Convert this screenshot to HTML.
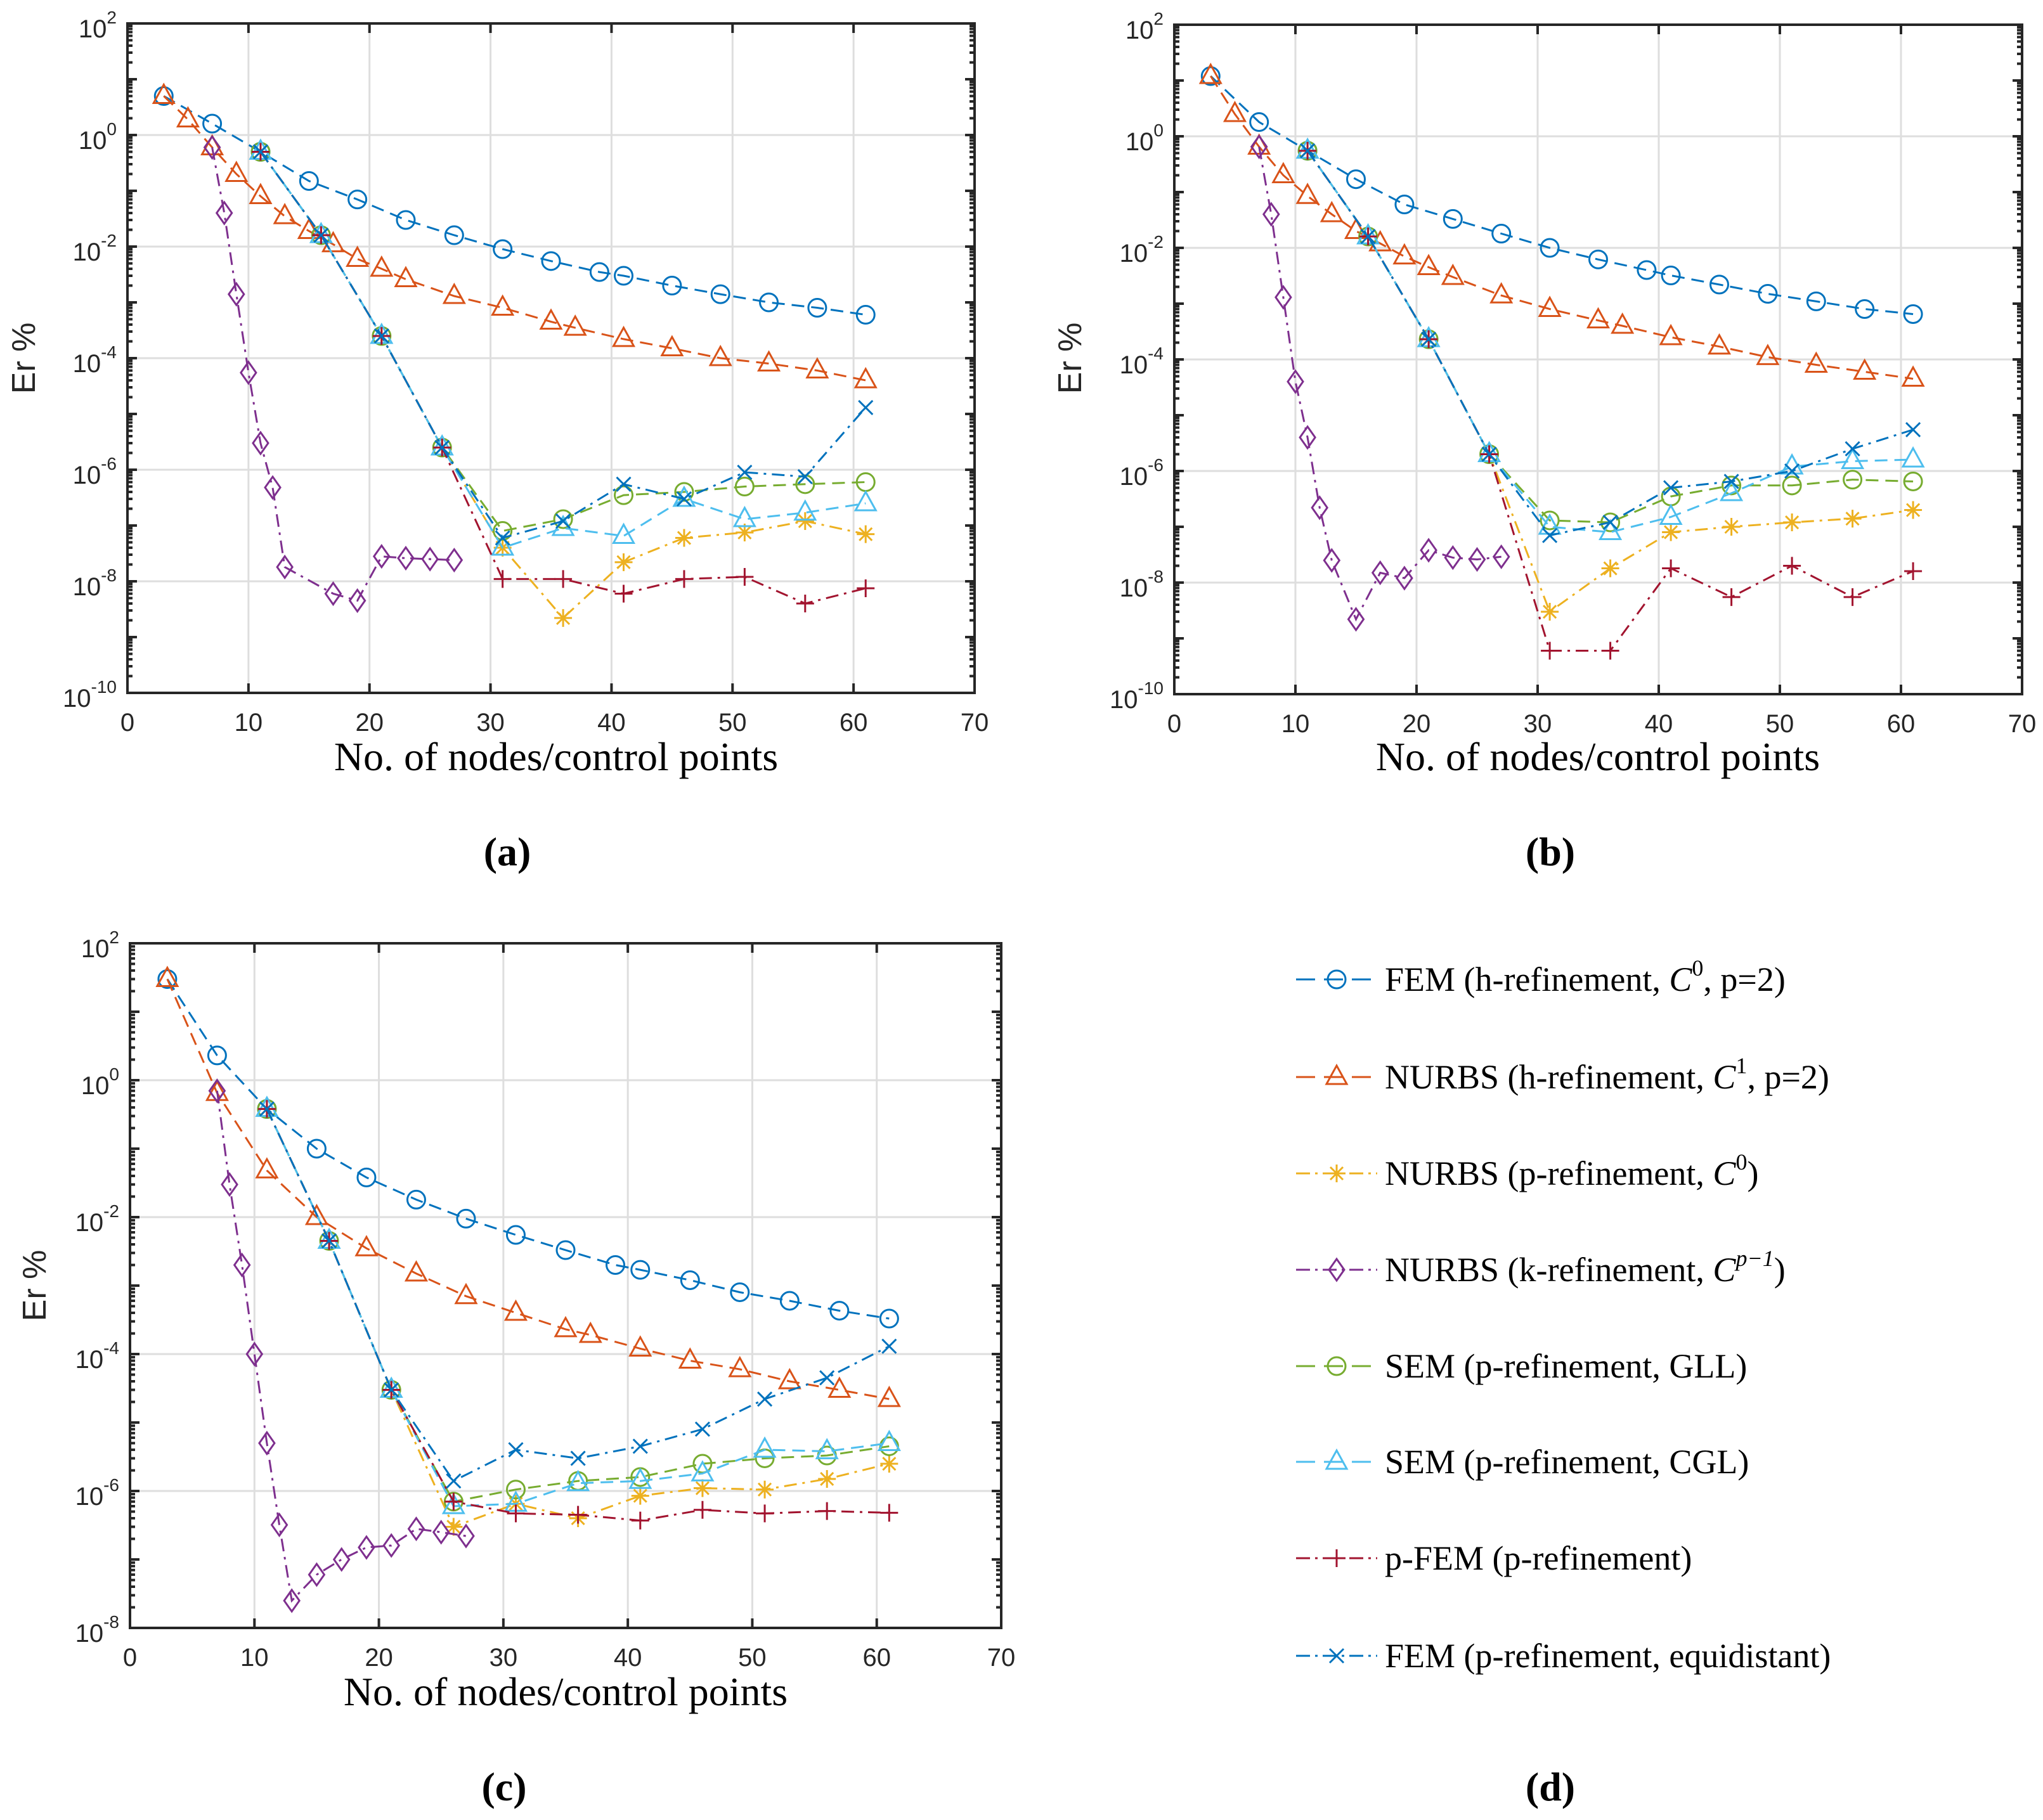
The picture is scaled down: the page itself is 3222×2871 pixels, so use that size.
<!DOCTYPE html>
<html><head><meta charset="utf-8"><style>
html,body{margin:0;padding:0;background:#fff;}
svg{display:block;}
text{font-family:"Liberation Sans",sans-serif;fill:#262626;}
.serif{font-family:"Liberation Serif",serif;fill:#000;}
</style></head><body>
<svg id="fig" width="3222" height="2871" viewBox="0 0 3222 2871" xmlns="http://www.w3.org/2000/svg"></svg>
<script>
// ---- data (panel a) ----
const xFemH = [3,7,11,15,19,23,27,31,35,39,41,45,49,53,57,61];
const xNurbsH = [3,5,7,9,11,13,15,17,19,21,23,27,31,35,37,41,45,49,53,57,61];
const xNurbsHc = [3,7,11,15,19,23,27,31,35,37,41,45,49,53,57,61];
const xP = [11,16,21,26,31,36,41,46,51,56,61];
const xK = [7,8,9,10,11,12,13,17,19,21,23,25,27];
const xK2 = [7,8,9,10,11,12,13,15,17,19,21,23,25,27];

const aFemH = [5,1.6,0.5,0.15,0.07,0.03,0.016,0.009,0.0055,0.0035,0.003,0.002,0.0014,0.001,0.0008,0.0006];
const aNurbsH = [5,1.9,0.6,0.2,0.08,0.035,0.019,0.011,0.006,0.004,0.0026,0.0013,0.0008,0.00045,0.00035,0.00022,0.00015,0.0001,0.00008,0.00006,0.00004];
const aNurbsP = [0.5,0.016,2.5e-4,2.5e-6,4e-8,2.2e-9,2.2e-8,6e-8,7.5e-8,1.2e-7,7e-8];
const aNurbsK = [0.6,0.04,0.0014,5.5e-5,3e-6,4.8e-7,1.8e-8,6e-9,4.5e-9,2.8e-8,2.6e-8,2.5e-8,2.4e-8];
const aSemGll = [0.5,0.016,2.5e-4,2.5e-6,8e-8,1.3e-7,3.5e-7,4e-7,5e-7,5.5e-7,6e-7];
const aSemCgl = [0.5,0.016,2.5e-4,2.5e-6,4e-8,9e-8,6.5e-8,3e-7,1.3e-7,1.7e-7,2.5e-7];
const aPFem = [0.5,0.016,2.5e-4,2.5e-6,1.1e-8,1.1e-8,6e-9,1.1e-8,1.2e-8,4e-9,7.5e-9];
const aFemP = [0.5,0.016,2.5e-4,2.5e-6,6e-8,1.2e-7,5.5e-7,3e-7,9e-7,7.5e-7,1.3e-5];

// ---- data (panel b) ----
const bFemH = [12,1.8,0.55,0.17,0.06,0.033,0.018,0.01,0.0062,0.004,0.0032,0.0022,0.0015,0.0011,0.0008,0.00065];
const bNurbsH = [12,2.5,0.65,0.2,0.085,0.04,0.02,0.012,0.007,0.0045,0.003,0.0014,0.0008,0.0005,0.0004,0.00025,0.00017,0.00011,0.00008,0.00006,0.000045];
const bNurbsP = [0.55,0.016,2.3e-4,2e-6,3e-9,1.8e-8,8e-8,1e-7,1.2e-7,1.4e-7,2e-7];
const bNurbsK = [0.65,0.04,0.0013,4e-5,4e-6,2.2e-7,2.5e-8,2.2e-9,1.5e-8,1.2e-8,3.8e-8,2.8e-8,2.6e-8,2.9e-8];
const bSemGll = [0.55,0.016,2.3e-4,2e-6,1.3e-7,1.2e-7,3.5e-7,5.5e-7,5.5e-7,7e-7,6.5e-7];
const bSemCgl = [0.55,0.016,2.3e-4,2e-6,1e-7,8e-8,1.5e-7,4e-7,1.2e-6,1.5e-6,1.6e-6];
const bPFem = [0.55,0.016,2.3e-4,2e-6,6e-10,6e-10,1.8e-8,5.5e-9,2e-8,5.5e-9,1.6e-8];
const bFemP = [0.55,0.016,2.3e-4,2e-6,7e-8,1.2e-7,5e-7,6.5e-7,1e-6,2.5e-6,5.5e-6];

// ---- data (panel c) ----
const cFemH = [30,2.3,0.38,0.1,0.038,0.018,0.0095,0.0055,0.0033,0.002,0.0017,0.0012,0.0008,0.0006,0.00043,0.00033];
const cNurbsH = [30,0.65,0.048,0.01,0.0035,0.0015,0.0007,0.0004,0.00023,0.00019,0.00012,0.00008,0.00006,0.00004,0.00003,0.000022];
const cNurbsP = [0.38,0.0045,3e-5,3e-7,6.5e-7,4e-7,8.5e-7,1.1e-6,1.05e-6,1.5e-6,2.5e-6];
const cNurbsK = [0.7,0.03,0.002,1e-4,5e-6,3.2e-7,2.5e-8,6e-8,1e-7,1.5e-7,1.6e-7,2.8e-7,2.5e-7,2.2e-7];
const cSemGll = [0.38,0.0045,3e-5,7e-7,1.05e-6,1.4e-6,1.6e-6,2.5e-6,3e-6,3.3e-6,4.5e-6];
const cSemCgl = [0.38,0.0045,3e-5,6e-7,6.5e-7,1.3e-6,1.4e-6,1.8e-6,4e-6,3.8e-6,5e-6];
const cPFem = [0.38,0.0045,3e-5,7e-7,4.7e-7,4.5e-7,3.7e-7,5.3e-7,4.7e-7,5.1e-7,4.8e-7];
const cFemP = [0.38,0.0045,3e-5,1.4e-6,4e-6,3e-6,4.5e-6,8e-6,2.2e-5,4.5e-5,1.3e-4];

const xTicks = [0,10,20,30,40,50,60,70];
const legendLabels = ["FEM (h-refinement, C0, p=2)","NURBS (h-refinement, C1, p=2)","NURBS (p-refinement, C0)","NURBS (k-refinement, Cp−1)","SEM (p-refinement, GLL)","SEM (p-refinement, CGL)","p-FEM (p-refinement)","FEM (p-refinement, equidistant)"];

const NS="http://www.w3.org/2000/svg";
const svg=document.getElementById('fig');
function el(tag,attrs,parent){const e=document.createElementNS(NS,tag);for(const k in attrs)e.setAttribute(k,attrs[k]);(parent||svg).appendChild(e);return e;}

const COL={blue:"#0072BD",orange:"#D95319",yellow:"#EDB120",purple:"#7E2F8E",green:"#77AC30",cyan:"#4DBEEE",red:"#A2142F"};
const DASH="20 11", DASHDOT="20 9 4 9";
const styles=[
 {c:COL.blue,d:DASH,m:"circle",n:"fem-h"},
 {c:COL.orange,d:DASH,m:"tri",n:"nurbs-h"},
 {c:COL.yellow,d:DASHDOT,m:"star",n:"nurbs-p"},
 {c:COL.purple,d:DASHDOT,m:"diamond",n:"nurbs-k"},
 {c:COL.green,d:DASH,m:"circle",n:"sem-gll"},
 {c:COL.cyan,d:DASH,m:"tri",n:"sem-cgl"},
 {c:COL.red,d:DASHDOT,m:"plus",n:"p-fem"},
 {c:COL.blue,d:DASHDOT,m:"x",n:"fem-p-equidistant"}];

function marker(g,type,x,y,c){
  const a={fill:"none",stroke:c,"stroke-width":3};
  let e;
  if(type==="circle"){e=el('circle',Object.assign({cx:x,cy:y,r:14},a),g);}
  else if(type==="tri"){e=el('polygon',Object.assign({points:`${x},${y-18} ${x+16},${y+11} ${x-16},${y+11}`},a),g);}
  else if(type==="diamond"){e=el('polygon',Object.assign({points:`${x},${y-17} ${x+12},${y} ${x},${y+17} ${x-12},${y}`},a),g);}
  else if(type==="plus"){e=el('path',Object.assign({d:`M${x-14},${y}H${x+14}M${x},${y-14}V${y+14}`},a),g);}
  else if(type==="x"){e=el('path',Object.assign({d:`M${x-11},${y-11}L${x+11},${y+11}M${x-11},${y+11}L${x+11},${y-11}`},a),g);}
  else {e=el('path',Object.assign({d:`M${x-14},${y}H${x+14}M${x},${y-14}V${y+14}M${x-10},${y-10}L${x+10},${y+10}M${x-10},${y+10}L${x+10},${y-10}`},a),g);}
  return e;
}

const panels=[
 {id:"a",L:201,R:1537,T:37,B:1093,ymax:2,ymin:-10,xl:877,xlY:1215,cap:[800,1365],yl:[55,565],
  series:[[xFemH,aFemH],[xNurbsH,aNurbsH],[xP,aNurbsP],[xK,aNurbsK],[xP,aSemGll],[xP,aSemCgl],[xP,aPFem],[xP,aFemP]]},
 {id:"b",L:1852,R:3189,T:39,B:1095,ymax:2,ymin:-10,xl:2520,xlY:1215,cap:[2445,1365],yl:[1705,565],
  series:[[xFemH,bFemH],[xNurbsH,bNurbsH],[xP,bNurbsP],[xK2,bNurbsK],[xP,bSemGll],[xP,bSemCgl],[xP,bPFem],[xP,bFemP]]},
 {id:"c",L:205,R:1579,T:1488,B:2568,ymax:2,ymin:-8,xl:892,xlY:2690,cap:[795,2840],yl:[72,2028],
  series:[[xFemH,cFemH],[xNurbsHc,cNurbsH],[xP,cNurbsP],[xK2,cNurbsK],[xP,cSemGll],[xP,cSemCgl],[xP,cPFem],[xP,cFemP]]}
];

panels.forEach(p=>{
  const g=el('g',{});
  
  
  const sx=v=>p.L+(v-0)/(70-0)*(p.R-p.L);
  const sy=v=>p.T+(p.ymax-Math.log10(v))/(p.ymax-p.ymin)*(p.B-p.T);
  const syE=e=>p.T+(p.ymax-e)/(p.ymax-p.ymin)*(p.B-p.T);
  const grid=el('g',{stroke:"#dedede","stroke-width":3},g);
  
  xTicks.forEach(t=>{if(t>0&&t<70)el('line',{x1:sx(t),x2:sx(t),y1:p.T,y2:p.B},grid);});
  for(let e=p.ymin+2;e<p.ymax;e+=2)el('line',{x1:p.L,x2:p.R,y1:syE(e),y2:syE(e)},grid);
  const tk=el('g',{stroke:"#262626","stroke-width":4},g);
  
  xTicks.forEach(t=>{const X=sx(t);el('line',{x1:X,x2:X,y1:p.B,y2:p.B-15},tk);el('line',{x1:X,x2:X,y1:p.T,y2:p.T+15},tk);});
  for(let e=p.ymin;e<=p.ymax;e++){
    const Y=syE(e);
    el('line',{x1:p.L,x2:p.L+15,y1:Y,y2:Y},tk);el('line',{x1:p.R,x2:p.R-15,y1:Y,y2:Y},tk);
    if(e<p.ymax)for(let m=2;m<=9;m++){const Ym=sy(m*Math.pow(10,e));
      el('line',{x1:p.L,x2:p.L+8,y1:Ym,y2:Ym},tk);el('line',{x1:p.R,x2:p.R-8,y1:Ym,y2:Ym},tk);}
  }
  p.series.forEach((s,i)=>{
    const st=styles[i];
    const sg=el('g',{},g);
    
    
    const pts=s[0].map((x,j)=>sx(x).toFixed(1)+","+sy(s[1][j]).toFixed(1)).join(" ");
    el('polyline',{points:pts,fill:"none",stroke:st.c,"stroke-width":3,"stroke-dasharray":st.d},sg);
    s[0].forEach((x,j)=>{const m=marker(sg,st.m,sx(x),sy(s[1][j]),st.c);
      
      });
  });
  const box=el('rect',{x:p.L,y:p.T,width:p.R-p.L,height:p.B-p.T,fill:"none",stroke:"#262626","stroke-width":4},g);
  
  xTicks.forEach(t=>{const tx=el('text',{x:sx(t),y:p.B+60,"text-anchor":"middle","font-size":40},g);tx.textContent=t;
    });
  for(let e=p.ymin;e<=p.ymax;e+=2){
    const Y=syE(e);
    const tx=el('text',{x:p.L-17,y:Y+22,"text-anchor":"end","font-size":40},g);
    
    const t1=el('tspan',{},tx);t1.textContent="10";
    const t2=el('tspan',{dy:-22,"font-size":28},tx);t2.textContent=String(e);
  }
  const xl=el('text',{x:p.xl,y:p.xlY,"text-anchor":"middle","font-size":64,class:"serif"},g);
  xl.textContent="No. of nodes/control points";
  
  const yl=el('text',{x:p.yl[0],y:p.yl[1],"text-anchor":"middle","font-size":52,transform:`rotate(-90 ${p.yl[0]} ${p.yl[1]})`},g);
  yl.textContent="Er %";
  
  const cp=el('text',{x:p.cap[0],y:p.cap[1],"text-anchor":"middle","font-size":64,class:"serif","font-weight":"bold"},g);
  cp.textContent="("+p.id+")";
  
});

const lg=el('g',{});


const legY=[1545,1699,1851,2003,2155,2306,2458,2612];
legendLabels.forEach((lab,i)=>{
  const st=styles[i];const y=legY[i];
  const eg=el('g',{},lg);
  
  
  el('line',{x1:2044,x2:2172,y1:y,y2:y,stroke:st.c,"stroke-width":3,"stroke-dasharray":st.d==DASH?"30 14":"22 8 4 8"},eg);
  marker(eg,st.m,2108,y,st.c);
  const t=el('text',{x:2184,y:y+18,"font-size":54,class:"serif"},eg);
  const m=lab.match(/^(.*), C(0|1|p−1)(.*)$/);
  if(m){const a=el('tspan',{},t);a.textContent=m[1]+", ";
    const c=el('tspan',{"font-style":"italic"},t);c.textContent="C";
    const s=el('tspan',{dy:-24,"font-size":36,"font-style":m[2]=="p−1"?"italic":"normal"},t);s.textContent=m[2];
    const r=el('tspan',{dy:24},t);r.textContent=m[3];}
  else t.textContent=lab;
});
const capd=el('text',{x:2445,y:2840,"text-anchor":"middle","font-size":64,class:"serif","font-weight":"bold"},svg);
capd.textContent="(d)";


</script>
</body></html>
